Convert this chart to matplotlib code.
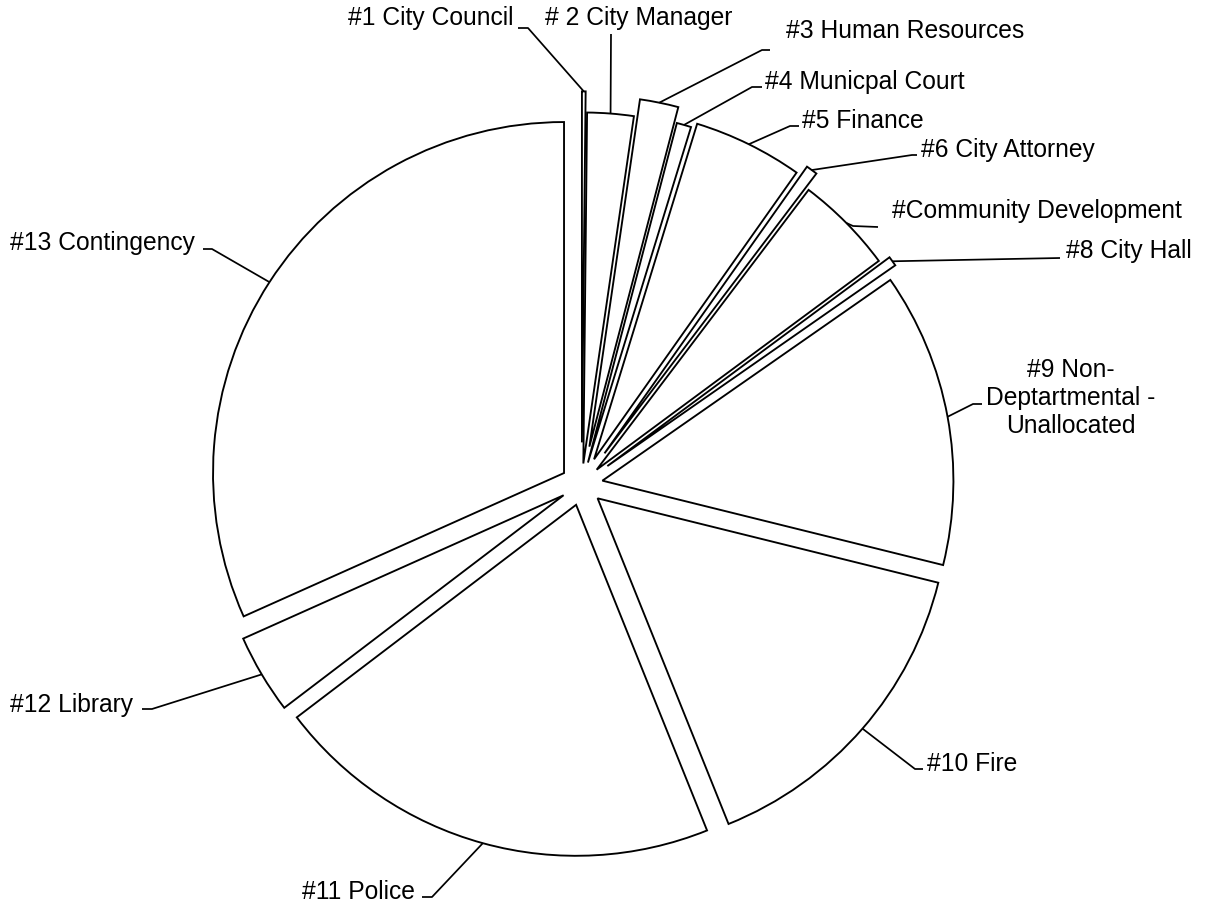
import numpy as np
import matplotlib.pyplot as plt

# Reparto del presupuesto por departamento (porcentaje aprox.)
departamentos = ['#1 City Council', '# 2 City Manager', '#3 Human Resources',
                 '#4 Municpal Court', '#5 Finance', '#6 City Attorney',
                 '#Community Development', '#8 City Hall',
                 '#9 Non-\nDeptartmental -\nUnallocated', '#10 Fire',
                 '#11 Police', '#12 Library', '#13 Contingency']
valores = [0.17, 2.14, 1.78, 0.67, 5.06, 0.53, 4.56, 0.45, 13.6, 15.1, 20.8, 3.67, 31.8]
separacion = [0.12, 0.06, 0.11, 0.065, 0.08, 0.11, 0.06, 0.09, 0.06, 0.06, 0.06, 0.06, 0.06]

# geometria en pixeles de la imagen
W, H = 1215, 904
cx, cy, R = 581.7, 485.5, 351.0


def px(x, y):
    # pixel -> coordenadas de datos (radio = 1)
    return ((x - cx) / R, (cy - y) / R)


# posicion de cada etiqueta: (x, linea base, alineacion, puntos de la guia)
etiquetas = [
    (513, 25, 'right', [(528, 29), (518, 29)]),
    (545, 25, 'left', [(611, 35)]),
    (786, 38, 'left', [(762, 51), (770, 51)]),
    (765, 89, 'left', [(752, 88), (762, 88)]),
    (802, 128, 'left', [(790, 127), (799, 127)]),
    (921, 157, 'left', [(912, 156), (917, 156)]),
    (892, 218, 'left', [(853, 227), (878, 228)]),
    (1066, 258, 'left', [(1060, 259)]),
    (1071, 377, 'center', [(973, 405), (982, 405)]),
    (927, 771, 'left', [(915, 770), (923, 770)]),
    (415, 899, 'right', [(432, 898), (422, 898)]),
    (133, 712, 'right', [(152, 710), (142, 710)]),
    (195, 250, 'right', [(212, 250), (203, 250)]),
]

plt.rcParams['font.family'] = ['Liberation Sans', 'DejaVu Sans']

fig = plt.figure(figsize=(W / 100, H / 100), dpi=100)
ax = fig.add_axes([0, 0, 1, 1])

wedges, _ = ax.pie(valores, explode=separacion, startangle=90, counterclock=False,
                   radius=1, colors=['white'] * len(valores),
                   wedgeprops=dict(edgecolor='black', linewidth=1.35))

for w, nombre, (tx, ty, ha, guia) in zip(wedges, departamentos, etiquetas):
    m = np.radians((w.theta1 + w.theta2) / 2)
    ax0 = w.center[0] + w.r * np.cos(m)
    ay0 = w.center[1] + w.r * np.sin(m)
    pts = [(ax0, ay0)] + [px(*p) for p in guia]
    xs, ys = zip(*pts)
    ax.plot(xs, ys, color='black', linewidth=1.25, solid_capstyle='butt')

    lineas = nombre.split('\n')
    for i, linea in enumerate(lineas):
        x, y = px(tx, ty + 28 * i)
        ax.text(x, y, linea, ha=ha, va='baseline', fontsize=17.75, color='black')

ax.set_xlim(-cx / R, (W - cx) / R)
ax.set_ylim((cy - H) / R, cy / R)
ax.set_aspect('equal')
ax.axis('off')

fig.savefig('out.png', dpi=100, facecolor='white')
